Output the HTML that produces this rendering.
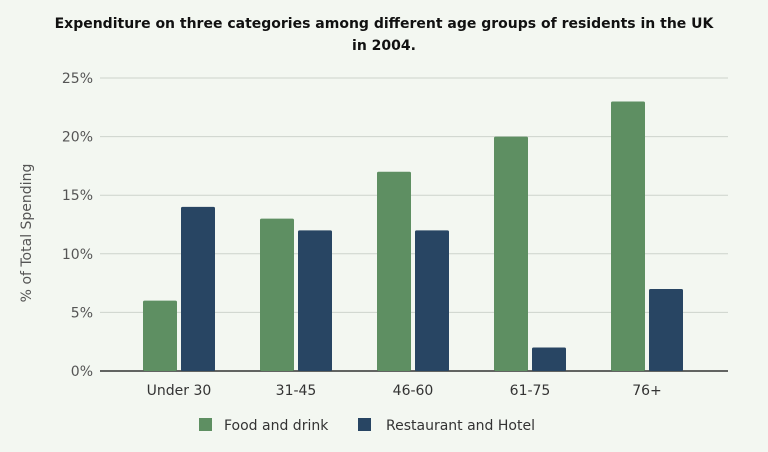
<!DOCTYPE html>
<html><head><meta charset="utf-8"><style>
body{margin:0;background:#f3f7f1;font-family:"DejaVu Sans",sans-serif;}
</style></head><body>
<svg width="768" height="452" viewBox="0 0 768 452" style="display:block;font-family:'DejaVu Sans',sans-serif">
<rect width="768" height="452" fill="#f3f7f1"/>
<text x="384" y="28" text-anchor="middle" font-size="14" font-weight="bold" fill="#111">Expenditure on three categories among different age groups of residents in the UK</text>
<text x="384" y="50" text-anchor="middle" font-size="14" font-weight="bold" fill="#111">in 2004.</text>
<text transform="translate(31,233) rotate(-90)" text-anchor="middle" font-size="14" fill="#555">% of Total Spending</text>
<g id="grid"></g><g id="bars"></g><g id="xl"></g>
<g>
<rect x="199" y="418" width="13" height="13" fill="#5e8f62"/>
<text x="224" y="430" font-size="14" fill="#333">Food and drink</text>
<rect x="358" y="418" width="13" height="13" fill="#284563"/>
<text x="386" y="430" font-size="14" fill="#333">Restaurant and Hotel</text>
</g>
</svg>
<script>
const categories=["Under 30","31-45","46-60","61-75","76+"];
const food=[6,13,17,20,23];
const hotel=[14,12,12,2,7];
const ticks=[0,5,10,15,20,25];
const ns="http://www.w3.org/2000/svg";
const y=v=>371-v*(293/25);
const xc=i=>179+i*117;
function mk(t,a,p){const e=document.createElementNS(ns,t);for(const k in a)e.setAttribute(k,a[k]);p.appendChild(e);return e;}
const g=document.getElementById('grid'),b=document.getElementById('bars'),xl=document.getElementById('xl');
ticks.forEach(t=>{
 const l=mk('line',{x1:100,x2:728,y1:y(t),y2:y(t),stroke:t===0?'#333':'#cdd3cc','stroke-width':t===0?1.5:1},g);
 
 
 const tx=mk('text',{x:93,y:y(t)+5,'text-anchor':'end','font-size':14,fill:'#555'},g);
 tx.textContent=t+'%';
 
 
});
categories.forEach((c,i)=>{
 const r1=mk('rect',{x:xc(i)-36,y:y(food[i]),width:34,height:y(0)-y(food[i]),fill:'#5e8f62',rx:1.5},b);
 
 
 const r2=mk('rect',{x:xc(i)+2,y:y(hotel[i]),width:34,height:y(0)-y(hotel[i]),fill:'#284563',rx:1.5},b);
 
 
 const t=mk('text',{x:xc(i),y:395,'text-anchor':'middle','font-size':14,fill:'#333'},xl);
 t.textContent=c;
 
 
});
</script>
</body></html>
